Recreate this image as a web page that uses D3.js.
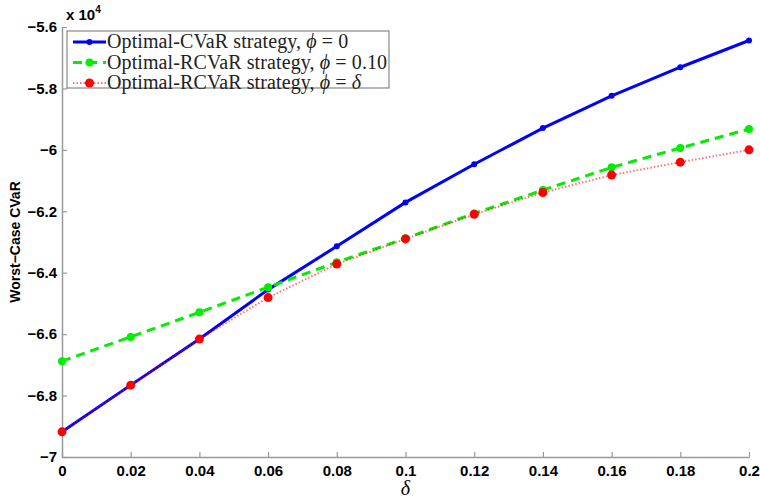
<!DOCTYPE html>
<html>
<head>
<meta charset="utf-8">
<script src="https://cdn.jsdelivr.net/npm/d3@7"></script>
<style>
  body { margin: 0; background: #fff; }
  svg { display: block; }
  .tick text { font-family: "Liberation Sans", Arial, sans-serif; font-weight: bold; font-size: 15px; fill: #000; }
</style>
</head>
<body>
<div id="chart"></div>
<script>
// delta values (x axis)
const deltas = [0, 0.02, 0.04, 0.06, 0.08, 0.1, 0.12, 0.14, 0.16, 0.18, 0.2];
// worst-case CVaR, units of 1e4
const cvarPhi0 = [-6.918, -6.766, -6.616, -6.455, -6.314, -6.171, -6.047, -5.929, -5.824, -5.731, -5.644];
const rcvarPhi010 = [-6.688, -6.609, -6.529, -6.447, -6.366, -6.288, -6.207, -6.131, -6.057, -5.994, -5.932];
const rcvarPhiDelta = [-6.918, -6.766, -6.616, -6.481, -6.372, -6.290, -6.210, -6.139, -6.082, -6.040, -6.000];

const xTicks = [0, 0.02, 0.04, 0.06, 0.08, 0.1, 0.12, 0.14, 0.16, 0.18, 0.2];
const yTicks = [-7, -6.8, -6.6, -6.4, -6.2, -6, -5.8, -5.6];
const seriesNames = ['Optimal-CVaR strategy, ', 'Optimal-RCVaR strategy, ', 'Optimal-RCVaR strategy, '];
const phiText = ['0', '0.10', 'δ'];

const w = 760, h = 501;
const m = { left: 62, right: 749, top: 27, bottom: 457 };

const svg = d3.select('#chart').append('svg').attr('width', w).attr('height', h);

const x = d3.scaleLinear().domain([0, 0.2]).range([m.left, m.right]);
const y = d3.scaleLinear().domain([-7, -5.6]).range([m.bottom, m.top]);

const xAxis = d3.axisBottom(x).tickValues(xTicks).tickSizeInner(-5).tickSizeOuter(0).tickPadding(7)
  .tickFormat(d => String(+d.toFixed(2)));
const yAxis = d3.axisLeft(y).tickValues(yTicks).tickSizeInner(-5).tickSizeOuter(0).tickPadding(5)
  .tickFormat(d => (d < 0 ? '\u2212' : '') + Math.abs(+d.toFixed(1)));

const gx = svg.append('g').attr('transform', `translate(0,${m.bottom})`).call(xAxis);
const gy = svg.append('g').attr('transform', `translate(${m.left},0)`).call(yAxis);
[gx, gy].forEach(g => {
  g.select('.domain').attr('stroke', '#999').attr('stroke-width', 1.5);
  g.selectAll('.tick line').attr('stroke', '#999').attr('stroke-width', 1.2);
});
gx.selectAll('.tick text').attr('dy', '0.8em');

// exponent
const ex = svg.append('text').attr('x', 66).attr('y', 20)
  .style('font-family', '"Liberation Sans", Arial, sans-serif').style('font-weight', 'bold').style('font-size', '15px');
ex.append('tspan').text('x 10');
ex.append('tspan').attr('dy', -7).style('font-size', '10px').text('4');

// axis labels
svg.append('text')
  .attr('transform', `translate(20,${(m.top + m.bottom) / 2}) rotate(-90)`)
  .attr('text-anchor', 'middle')
  .style('font-family', '"Liberation Sans", Arial, sans-serif').style('font-weight', 'bold').style('font-size', '14px')
  .text('Worst\u2212Case CVaR');

svg.append('text')
  .attr('x', (m.left + m.right) / 2).attr('y', 495)
  .attr('text-anchor', 'middle')
  .style('font-family', '"Liberation Serif", serif').style('font-style', 'italic').style('font-size', '20px')
  .text('δ');

const line = d3.line().x((d, i) => x(deltas[i])).y(d => y(d));

const styles = [
  { data: cvarPhi0, color: '#0000ff', width: 3, dash: null, r: 3, opacity: 1 },
  { data: rcvarPhi010, color: '#00ee00', width: 3, dash: '9,6', r: 4, opacity: 1 },
  { data: rcvarPhiDelta, color: '#ff0000', width: 2, dash: '1.5,2', r: 4.5, opacity: 0.55 }
];

styles.forEach(s => {
  svg.append('path').datum(s.data)
    .attr('d', line)
    .attr('fill', 'none')
    .attr('stroke', s.color)
    .attr('stroke-width', s.width)
    .attr('stroke-opacity', s.opacity)
    .attr('stroke-dasharray', s.dash);
  svg.selectAll(null).data(s.data).enter().append('circle')
    .attr('cx', (d, i) => x(deltas[i]))
    .attr('cy', d => y(d))
    .attr('r', s.r)
    .attr('fill', s.color);
});

// legend
const lg = svg.append('g');
lg.append('rect').attr('x', 67).attr('y', 31).attr('width', 322).attr('height', 57)
  .attr('fill', '#fff').attr('stroke', '#888').attr('stroke-width', 1.2);
styles.forEach((s, i) => {
  const yy = 42 + i * 20.5;
  lg.append('line').attr('x1', 73).attr('x2', 106).attr('y1', yy).attr('y2', yy)
    .attr('stroke', s.color).attr('stroke-width', s.width)
    .attr('stroke-opacity', s.opacity).attr('stroke-dasharray', s.dash);
  lg.append('circle').attr('cx', 89.5).attr('cy', yy).attr('r', s.r).attr('fill', s.color);
  const t = lg.append('text').attr('x', 107).attr('y', yy + 6)
    .style('font-family', '"Liberation Serif", serif').style('font-size', '20px')
    .style('letter-spacing', '0.1px').attr('fill', '#222');
  t.append('tspan').text(seriesNames[i]);
  t.append('tspan').style('font-style', 'italic').text('ϕ');
  t.append('tspan').text(' = ');
  t.append('tspan').style('font-style', i === 2 ? 'italic' : 'normal').text(phiText[i]);
});
</script>
</body>
</html>
